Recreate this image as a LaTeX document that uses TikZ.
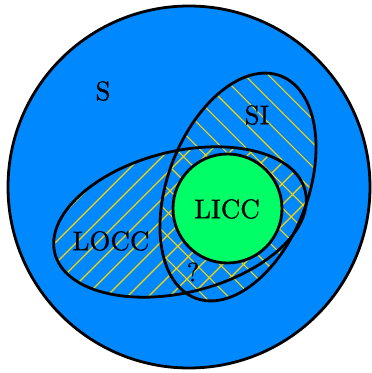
\documentclass[tikz,border=0pt]{standalone}
\usepackage{fontspec}
\newfontfamily\lblfont{lmroman10-regular}[Extension=.otf,FakeBold=0.8]
\definecolor{sblue}{RGB}{0,136,255}
\definecolor{lgreen}{RGB}{0,255,102}
\definecolor{hatchy}{RGB}{250,212,0}
\begin{document}
\begin{tikzpicture}[x=1pt,y=-1pt,
  outline/.style={draw=black,line width=2.8pt},
  hatch/.style={draw=hatchy,line width=1.1pt},
  lbl/.style={font=\lblfont\fontsize{27}{32}\selectfont,inner sep=0pt}]
\useasboundingbox (0,0) rectangle (372,373);
% S
\fill[sblue] (189,187) circle[radius=181pt];
% LOCC hatching
\begin{scope}
  \clip[shift={(180,222)},rotate=14] (0,0) ellipse[x radius=129pt,y radius=70.5pt];
  \foreach \k in {0,...,30} \draw[hatch] (\k*21+4-300,300) -- ++(400,-400);
\end{scope}
% SI hatching
\begin{scope}
  \clip[shift={(238,187)},rotate=69] (0,0) ellipse[x radius=119pt,y radius=70pt];
  \foreach \k in {-14,...,8} \draw[hatch] (\k*23.8+122,0) -- ++(400,400);
\end{scope}
\draw[outline] (189,187) circle[radius=181pt];
\draw[outline,shift={(180,222)},rotate=14] (0,0) ellipse[x radius=129pt,y radius=70.5pt];
\draw[outline,shift={(238,187)},rotate=69] (0,0) ellipse[x radius=119pt,y radius=70pt];
% LICC
\filldraw[outline,fill=lgreen] (227.5,208.5) circle[radius=54.5pt];
\node[lbl] (s) at (103,91) {S};
\node[lbl] (si) at (257,115) {SI};
\node[lbl] (licc) at (227,209) {LICC};
\node[lbl] (locc) at (111,241) {LOCC};
\node[lbl] (q) at (193,272) {?};
\end{tikzpicture}
\end{document}
